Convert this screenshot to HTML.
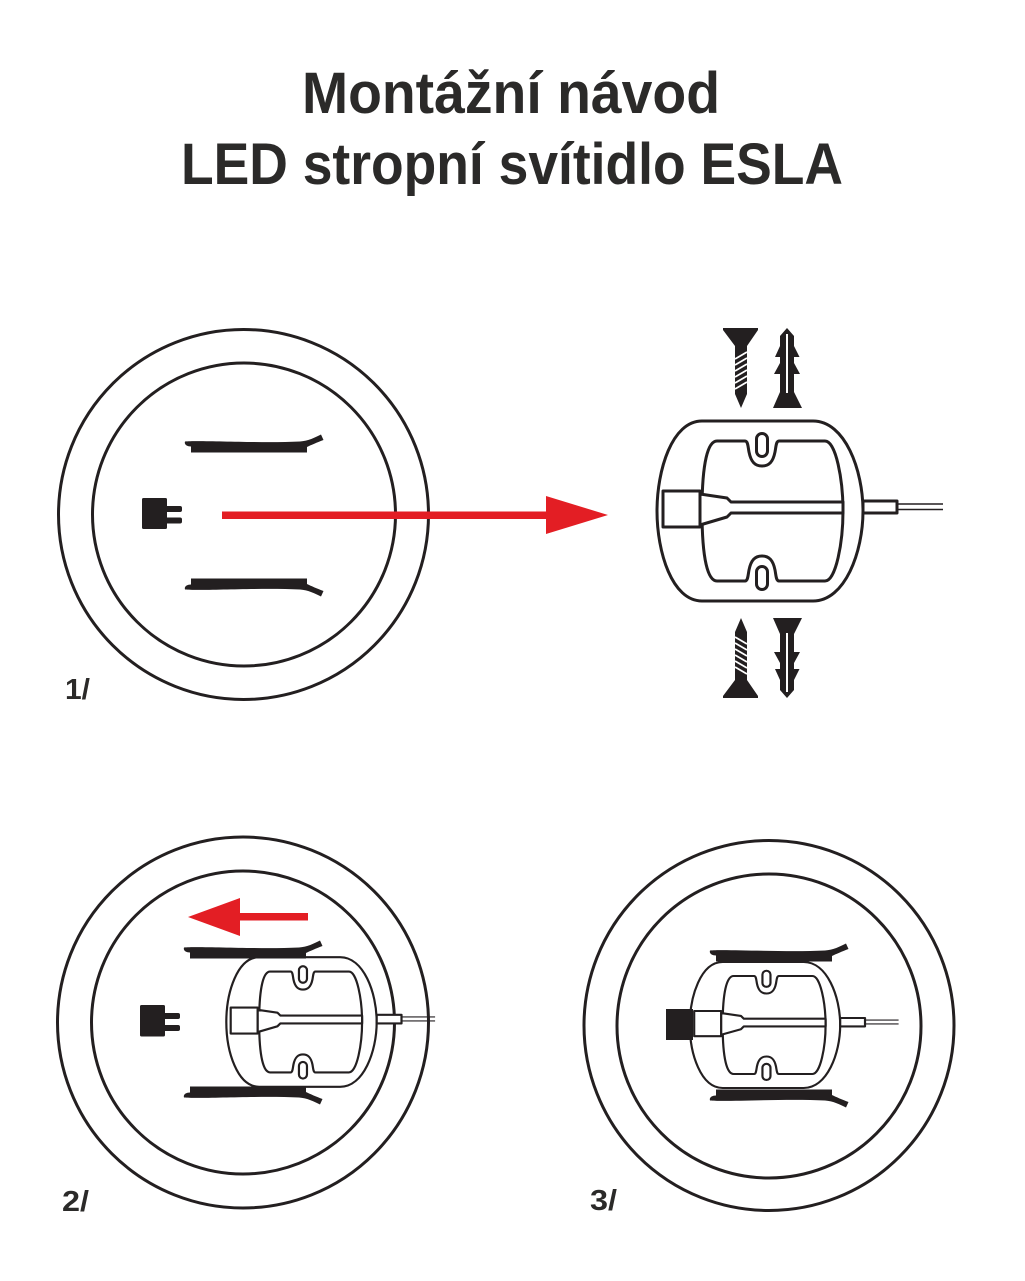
<!DOCTYPE html>
<html>
<head>
<meta charset="utf-8">
<style>
  html,body{margin:0;padding:0;background:#fff;}
  body{width:1025px;height:1281px;overflow:hidden;}
  svg{display:block;}
  text{font-family:"Liberation Sans", Arial, sans-serif;font-weight:bold;fill:#2b2a29;}
</style>
</head>
<body>
<svg width="1025" height="1281" viewBox="0 0 1025 1281" xmlns="http://www.w3.org/2000/svg">
  <defs>
    <!-- bracket in panel-1 coordinates (center 760,511) -->
    <g id="br" stroke="#231f20" stroke-width="3" stroke-linejoin="round" fill="#fff">
      <path d="M702,421 L813,421 C845,421 863,470 863,511 C863,552 845,601 813,601 L702,601 C672,601 657,552 657,511 C657,470 672,421 702,421 Z"/>
      <path d="M717,441 L745,441 C748,441 748,447 749,452 C751,462 755,466 762,466 C769,466 773,462 775,452 C776,447 776,441 779,441 L825,441 C836,441 843,480 843,511 C843,542 836,581 825,581 L779,581 C776,581 776,575 775,570 C773,560 769,556 762,556 C755,556 751,560 749,570 C748,575 748,581 745,581 L717,581 C708,581 702,560 702,511 C702,462 708,441 717,441 Z"/>
      <rect x="756.5" y="433.5" width="11" height="23" rx="5.5"/>
      <rect x="756.5" y="566.5" width="11" height="23" rx="5.5"/>
      <rect x="663" y="491" width="37" height="36"/>
      <polygon points="700,494 727,498 731,502 843,502 843,513 731,513 727,517 700,525"/>
      <rect x="863" y="501" width="34" height="12"/>
      <line x1="897" y1="504" x2="943" y2="504" stroke-width="1.6"/>
      <line x1="897" y1="509.5" x2="943" y2="509.5" stroke-width="1.6"/>
    </g>
    <!-- clip (top orientation) in panel-1 coordinates -->
    <path id="clip" fill="#231f20" d="M185,441.5 C200,440 260,443.5 300,441.5 C308,441 315,437.5 321,434.5 L323.5,440 C317,442.5 311,445 307,447 L307,452.5 L191,452.5 L191,446.5 C187,446.5 184,444.5 185,441.5 Z"/>
    <!-- plug -->
    <g id="plug" fill="#231f20">
      <rect x="142" y="498" width="25" height="31" rx="1.5"/>
      <rect x="165" y="506" width="17" height="6" rx="2"/>
      <rect x="165" y="517.5" width="17" height="6" rx="2"/>
    </g>
    <!-- screw pointing down -->
    <g id="screw">
      <path fill="#231f20" d="M723,328 H758 V330 L747,346 V394 L741,408 L735,394 V346 L723,330 Z"/>
      <g stroke="#fff" stroke-width="1.8">
        <line x1="735" y1="359" x2="747" y2="352"/>
        <line x1="735" y1="365" x2="747" y2="358"/>
        <line x1="735" y1="371" x2="747" y2="364"/>
        <line x1="735" y1="377" x2="747" y2="370"/>
        <line x1="735" y1="383" x2="747" y2="376"/>
        <line x1="735" y1="389" x2="747" y2="382"/>
      </g>
    </g>
    <!-- wall plug anchor pointing up -->
    <g id="anchor">
      <path fill="#231f20" d="M787,328 L794,336 L794,346 L799.5,357 L794,357 L794,363 L800,374 L794,374 L794,392 L802,408 L773,408 L780,392 L780,374 L774,374 L780,363 L780,357 L775,357 L780,346 L780,336 Z"/>
      <rect x="786" y="334" width="2" height="59" fill="#fff"/>
    </g>
  </defs>

  <!-- Title -->
  <text x="302" y="113" font-size="58" textLength="418" lengthAdjust="spacingAndGlyphs">Montážní návod</text>
  <text x="181" y="184" font-size="58" textLength="662" lengthAdjust="spacingAndGlyphs">LED stropní svítidlo ESLA</text>

  <!-- Panel 1 -->
  <g fill="none" stroke="#231f20" stroke-width="3">
    <circle cx="243.5" cy="514.5" r="185"/>
    <circle cx="244" cy="514.5" r="151.5"/>
  </g>
  <use href="#clip"/>
  <use href="#clip" transform="matrix(1,0,0,-1,0,1031)"/>
  <use href="#plug"/>
  <rect x="222" y="511.5" width="326" height="7.5" fill="#e31e24"/>
  <polygon points="546,496 608,515 546,534" fill="#e31e24"/>
  <text x="65" y="699" font-size="29" textLength="25" lengthAdjust="spacingAndGlyphs">1/</text>

  <!-- Bracket with screws -->
  <use href="#br"/>
  <use href="#screw"/>
  <use href="#anchor"/>
  <use href="#screw" transform="matrix(1,0,0,-1,0,1026)"/>
  <use href="#anchor" transform="matrix(1,0,0,-1,0,1026)"/>

  <!-- Panel 2 -->
  <g fill="none" stroke="#231f20" stroke-width="3">
    <circle cx="243" cy="1022.5" r="185.5"/>
    <circle cx="243" cy="1022.5" r="151.5"/>
  </g>
  <use href="#br" transform="translate(301.5,1022) scale(0.73,0.72) translate(-760,-511)"/>
  <use href="#clip" transform="translate(-1,506)"/>
  <use href="#clip" transform="matrix(1,0,0,-1,-1,1539)"/>
  <g fill="#231f20">
    <rect x="140" y="1005" width="25" height="31.5" rx="1.5"/>
    <rect x="163" y="1013" width="17" height="6" rx="2"/>
    <rect x="163" y="1025" width="17" height="6" rx="2"/>
  </g>
  <polygon points="188,917 240,898 240,936" fill="#e31e24"/>
  <rect x="238" y="913" width="70" height="7.5" fill="#e31e24"/>
  <text x="62" y="1211" font-size="29" textLength="27" lengthAdjust="spacingAndGlyphs">2/</text>

  <!-- Panel 3 -->
  <g fill="none" stroke="#231f20" stroke-width="3">
    <circle cx="769" cy="1025.5" r="185"/>
    <circle cx="769" cy="1026" r="152"/>
  </g>
  <use href="#br" transform="translate(765,1025) scale(0.73,0.70) translate(-760,-511)"/>
  <use href="#clip" transform="translate(525,509)"/>
  <use href="#clip" transform="matrix(1,0,0,-1,525,1542)"/>
  <rect x="666" y="1009" width="27" height="31" fill="#231f20"/>
  <text x="590" y="1210" font-size="29" textLength="27" lengthAdjust="spacingAndGlyphs">3/</text>
</svg>
</body>
</html>
